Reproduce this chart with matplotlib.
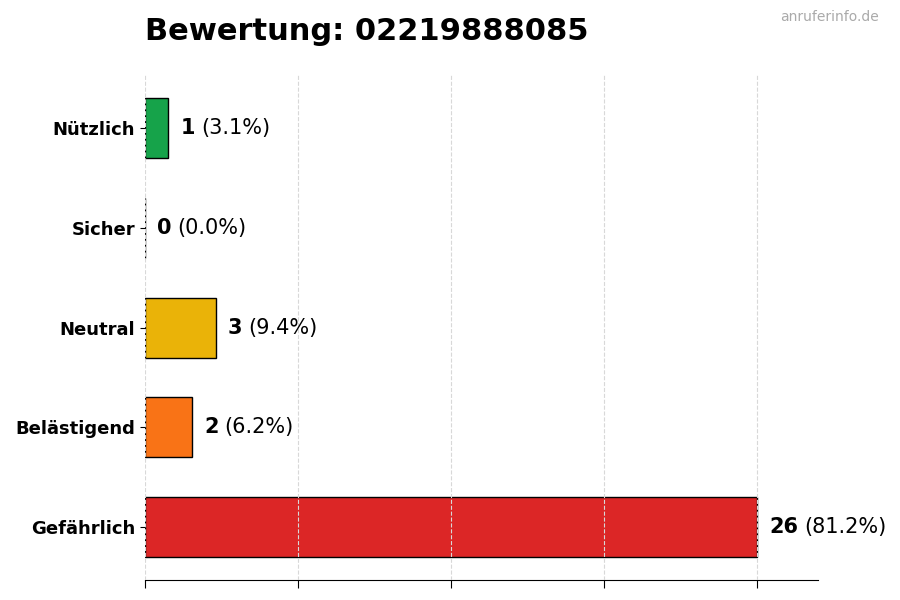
import matplotlib
matplotlib.use('Agg')
import matplotlib.pyplot as plt
from matplotlib.transforms import offset_copy

# Daten
kategorien = ['Gefährlich', 'Belästigend', 'Neutral', 'Sicher', 'Nützlich']
anzahl = [26, 2, 3, 0, 1]
farben = ['#dc2626', '#f97316', '#eab308', '#9ca3af', '#16a34a']
nummer = '02219888085'

gesamt = sum(anzahl)

fig, ax = plt.subplots(figsize=(9, 6), dpi=100)
fig.subplots_adjust(left=0.161, right=0.909, top=0.875, bottom=0.033)

y_pos = range(len(kategorien))
ax.barh(y_pos, anzahl, height=0.6, color=farben, edgecolor='black', linewidth=1)
ax.set_yticks(list(y_pos))
ax.set_yticklabels(kategorien, fontsize=13, fontweight='bold')

maxv = max(anzahl)
ax.set_xlim(0, maxv * 1.1)
ax.set_xticks([maxv * i / 4 for i in range(5)])
ax.set_xticklabels([])
ax.tick_params(axis='x', length=6)
ax.grid(axis='x', linestyle='--', color='#d8d8d8', linewidth=0.8)
ax.set_axisbelow(False)
for s in ['top', 'right', 'left']:
    ax.spines[s].set_visible(False)

fig.canvas.draw()
renderer = fig.canvas.get_renderer()
for i, v in enumerate(anzahl):
    pct = v / gesamt * 100
    x0 = v + maxv * 0.02
    t = ax.text(x0, i, str(v), fontsize=15, fontweight='bold',
                va='center', ha='left')
    bb = t.get_window_extent(renderer=renderer)
    trans = offset_copy(ax.transData, fig=fig, x=bb.width * 72 / fig.dpi + 4.2, units='points')
    ax.text(x0, i, '(%.1f%%)' % pct, fontsize=15,
            va='center', ha='left', transform=trans)

fig.text(0.161, 0.948, 'Bewertung: ' + nummer, fontsize=22, fontweight='bold',
         ha='left', va='center')
fig.text(0.976, 0.971, 'anruferinfo.de', fontsize=10, color='#aaaaaa',
         ha='right', va='center')

plt.savefig('out.png')
